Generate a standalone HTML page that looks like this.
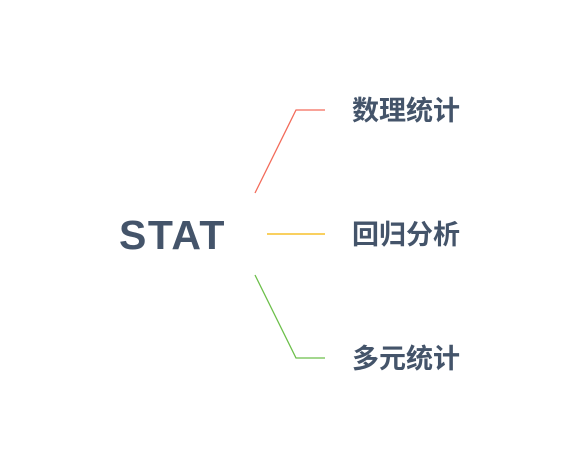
<!DOCTYPE html><html><head><meta charset="utf-8"><style>
body{margin:0;width:562px;height:469px;background:#fff;position:relative;overflow:hidden}
.t{position:absolute;font-family:"Liberation Sans","Noto Sans CJK SC",sans-serif;font-weight:bold;color:#44546a;white-space:nowrap;line-height:1}
</style></head><body>
<svg width="562" height="469" style="position:absolute;left:0;top:0">
<polyline points="255,193 296,110 325,110" fill="none" stroke="#f36b5a" stroke-width="1.3"/>
<line x1="267" y1="234" x2="325" y2="234" stroke="#f5b400" stroke-width="1.3"/>
<polyline points="255,275 296,358 325,358" fill="none" stroke="#6cbf4a" stroke-width="1.3"/>
</svg>
<div class="t" style="left:119px;top:215px;font-size:41px;letter-spacing:1.5px">STAT</div>
<div class="t" style="left:352px;top:98px;font-size:27px">数理统计</div>
<div class="t" style="left:352px;top:222px;font-size:27px">回归分析</div>
<div class="t" style="left:352px;top:346px;font-size:27px">多元统计</div>
</body></html>
